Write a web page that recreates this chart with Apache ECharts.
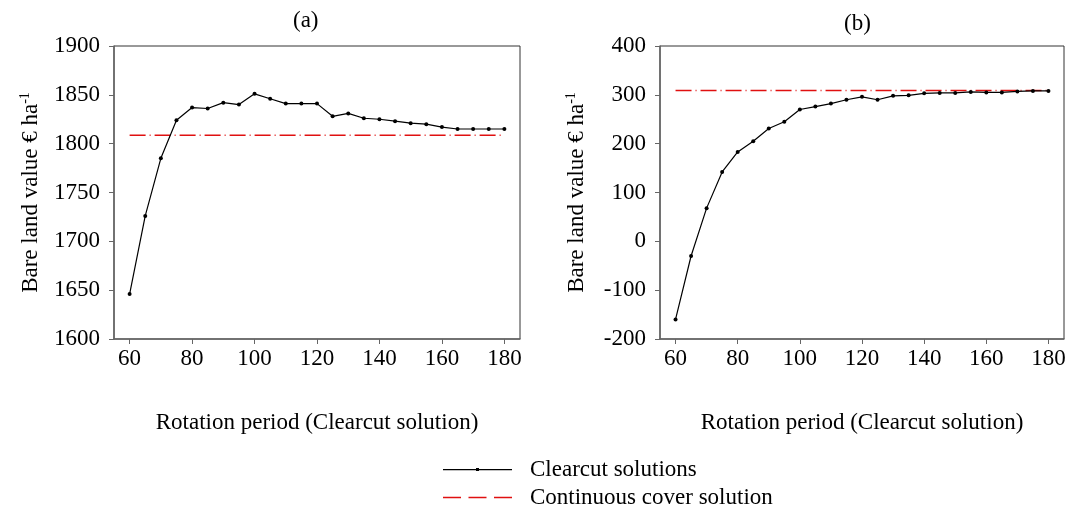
<!DOCTYPE html>
<html>
<head>
<meta charset="utf-8">
<script src="https://cdn.jsdelivr.net/npm/echarts@6/dist/echarts.min.js"></script>
<style>html,body{margin:0;padding:0;background:#fff;}#c{width:1072px;height:513px;}</style>
</head>
<body>
<div id="c"></div>
<script>
// ---- data ----
const rotation = [60,65,70,75,80,85,90,95,100,105,110,115,120,125,130,135,140,145,150,155,160,165,170,175,180];
const clearcutA = [1646,1726,1785,1824,1837,1836,1842,1840,1851,1846,1841,1841,1841,1828,1831,1826,1825,1823,1821,1820,1817,1815,1815,1815,1815];
const clearcutB = [-160,-30,68,142,183,205,231,245,270,276,282,290,296,290,298,299,303,304,304,306,305,305,307,308,308];
const continuousPeriods = [60,180];
const continuousA = [1808.5,1808.5];
const continuousB = [309,309];
const xTicks = [60,80,100,120,140,160,180];
const panelTitles = ['(a)','(b)'];
const seriesNames = ['Clearcut solutions','Continuous cover solution'];
const yName = 'Bare land value € ha';
const xName = 'Rotation period (Clearcut solution)';

const FONT = '"Liberation Serif","Times New Roman",serif';
const FS = 23;
const pair = (xs, ys) => xs.map((x,i)=>[x, ys[i]]);

function xAxis(idx){
  return {
    type:'value', gridIndex:idx, min:55, max:185,
    name:xName, nameLocation:'middle', nameGap:72,
    nameTextStyle:{fontFamily:FONT,fontSize:FS,color:'#000'},
    splitLine:{show:false},
    axisLine:{onZero:false,lineStyle:{color:'#666',width:1.5}},
    axisTick:{show:true,length:5,inside:false,customValues:xTicks,lineStyle:{color:'#666'}},
    axisLabel:{customValues:xTicks,margin:8,fontFamily:FONT,fontSize:FS,color:'#000'}
  };
}
function yAxis(idx,min,max,interval){
  return {
    type:'value', gridIndex:idx, min:min, max:max, interval:interval,
    name:'{m|'+yName+'}{s|-1}', nameLocation:'middle', nameGap:70, nameRotate:90,
    nameTextStyle:{fontFamily:FONT,fontSize:FS,color:'#000',
      rich:{m:{fontFamily:FONT,fontSize:FS,color:'#000',lineHeight:26},
            s:{fontFamily:FONT,fontSize:14,color:'#000',verticalAlign:'top',lineHeight:26,padding:[0,0,8,0]}}},
    splitLine:{show:false},
    axisLine:{show:true,onZero:false,lineStyle:{color:'#666',width:1.5}},
    axisTick:{show:true,length:5,lineStyle:{color:'#666'}},
    axisLabel:{margin:14,fontFamily:FONT,fontSize:FS,color:'#000',formatter:v=>String(v)}
  };
}
function ccSeries(idx,data){
  return {name:seriesNames[0],type:'line',xAxisIndex:idx,yAxisIndex:idx,data:data,
    symbol:'circle',symbolSize:4,itemStyle:{color:'#000'},
    lineStyle:{color:'#000',width:1.2},z:3,animation:false};
}
function contSeries(idx,data){
  return {name:seriesNames[1],type:'line',xAxisIndex:idx,yAxisIndex:idx,data:data,
    symbol:'none',itemStyle:{color:'#e01010'},
    lineStyle:{color:'#e01010',width:1.5,type:[16,4,1,4]},z:2,animation:false};
}

const chart = echarts.init(document.getElementById('c'),null,{renderer:'canvas'});
chart.setOption({
  backgroundColor:'#fff',
  animation:false,
  title:[
    {text:panelTitles[0],left:288,top:4,textStyle:{fontFamily:FONT,fontSize:FS,fontWeight:'normal',color:'#000'}},
    {text:panelTitles[1],left:839,top:7,textStyle:{fontFamily:FONT,fontSize:FS,fontWeight:'normal',color:'#000'}}
  ],
  grid:[
    {left:114,top:46,width:406,height:293,show:true,borderColor:'#333',borderWidth:1},
    {left:660,top:46,width:404,height:293,show:true,borderColor:'#333',borderWidth:1}
  ],
  xAxis:[xAxis(0),xAxis(1)],
  yAxis:[yAxis(0,1600,1900,50),yAxis(1,-200,400,100)],
  legend:{
    orient:'vertical',left:443,top:458,padding:0,itemWidth:69,itemHeight:3,itemGap:5,
    data:[
      {name:seriesNames[0],icon:'path://M0,1h69v1.2h-69z M33,0h3v3h-3z'},
      {name:seriesNames[1],icon:'path://M0,1h18v1.3h-18z M25.5,1h18v1.3h-18z M51,1h18v1.3h-18z'}
    ],
    textStyle:{fontFamily:FONT,fontSize:FS,color:'#000',padding:[0,0,0,13]}
  },
  series:[
    ccSeries(0,pair(rotation,clearcutA)),
    contSeries(0,pair(continuousPeriods,continuousA)),
    ccSeries(1,pair(rotation,clearcutB)),
    contSeries(1,pair(continuousPeriods,continuousB))
  ]
});
</script>
</body>
</html>
